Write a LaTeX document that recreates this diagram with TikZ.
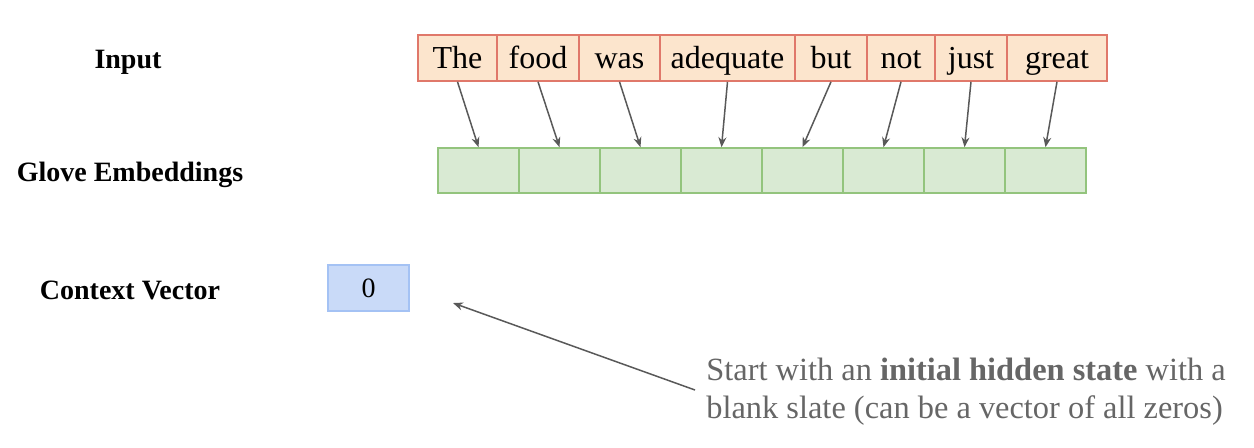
\documentclass[tikz,border=0pt]{standalone}
\usepackage{fontspec}
\setmainfont{Liberation Serif}
\usetikzlibrary{arrows.meta}
\definecolor{inFill}{HTML}{FCE5CD}
\definecolor{inDraw}{HTML}{E0786A}
\definecolor{gFill}{HTML}{D9EAD3}
\definecolor{gDraw}{HTML}{93C47D}
\definecolor{bFill}{HTML}{C9DAF8}
\definecolor{bDraw}{HTML}{A4C2F4}
\definecolor{arrC}{HTML}{595959}
\definecolor{noteC}{HTML}{666666}
\tikzset{
  inbox/.style={draw=inDraw, fill=inFill, line width=0.8pt, inner sep=0pt, minimum height=23pt, text height=12pt, text depth=2pt, font=\fontsize{16}{19}\selectfont},
  gbox/.style={draw=gDraw, fill=gFill, line width=0.8pt, inner sep=0pt, minimum width=40.5pt, minimum height=22.5pt},
  bbox/.style={draw=bDraw, fill=bFill, line width=0.8pt, inner sep=0pt, minimum width=40.5pt, minimum height=23pt, font=\fontsize{14}{17}\selectfont},
  rowlabel/.style={font=\fontsize{14}{17}\selectfont\bfseries},
  arr/.style={draw=arrC, line width=0.75pt, -{Stealth[length=5pt,width=4pt]}},
}
\begin{document}
\begin{tikzpicture}[x=0.5pt,y=-0.5pt]
\useasboundingbox (0,0) rectangle (1254,447);
% row labels
\node[rowlabel] (lin) at (128,62) {Input};
\node[rowlabel] (lgl) at (130,175) {Glove Embeddings};
\node[rowlabel] (lcv) at (130,290) {Context Vector};
% input words
\node[inbox, minimum width=39.5pt] (w1) at (457.5,58) {The};
\node[inbox, minimum width=41pt] (w2) at (538,58) {food};
\node[inbox, minimum width=40.5pt] (w3) at (619.5,58) {was};
\node[inbox, minimum width=67.5pt] (w4) at (727.5,58) {adequate};
\node[inbox, minimum width=36pt] (w5) at (831,58) {but};
\node[inbox, minimum width=34pt] (w6) at (901,58) {not};
\node[inbox, minimum width=36pt] (w7) at (971,58) {just};
\node[inbox, minimum width=50pt] (w8) at (1057,58) {great};
% glove cells
\node[gbox] (g1) at (478.5,170.5) {};
\node[gbox] (g2) at (559.5,170.5) {};
\node[gbox] (g3) at (640.5,170.5) {};
\node[gbox] (g4) at (721.5,170.5) {};
\node[gbox] (g5) at (802.5,170.5) {};
\node[gbox] (g6) at (883.5,170.5) {};
\node[gbox] (g7) at (964.5,170.5) {};
\node[gbox] (g8) at (1045.5,170.5) {};
% arrows
\foreach \i in {1,...,8} {\draw[arr] (w\i.south) -- (g\i.north);}
% context vector
\node[bbox] (cv) at (368.5,288) {0};
% annotation
\node[anchor=north west, align=left, inner sep=0pt, text=noteC, font=\fontsize{16.2}{19}\selectfont] (note) at (706,358) {Start with an \textbf{initial hidden state} with a\\blank slate (can be a vector of all zeros)};
\coordinate (nstart) at (695,390);
\coordinate (ntip) at (453,303);
\draw[arr] (nstart) -- (ntip);
\end{tikzpicture}
\end{document}
